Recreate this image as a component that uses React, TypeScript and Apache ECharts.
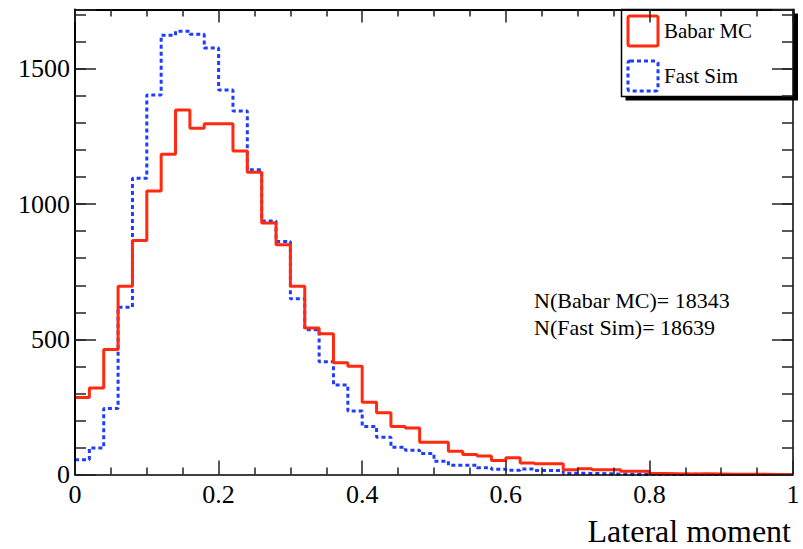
import React, { useEffect, useRef } from "react";
import * as echarts from "echarts";

// Histogram: 50 bins from 0 to 1 (bin width 0.02)
const BIN_WIDTH = 0.02;
const babarMC = [
  285, 320, 462, 696, 866, 1049, 1185, 1348, 1281, 1297,
  1297, 1197, 1118, 930, 850, 696, 542, 521, 413, 400,
  267, 228, 178, 172, 119, 119, 86, 74, 68, 52,
  62, 43, 40, 40, 18, 21, 18, 18, 12, 12,
  4, 3, 2, 3, 2, 1, 1, 1, 0, 0,
];
const fastSim = [
  55, 98, 244, 619, 1096, 1404, 1625, 1640, 1628, 1578,
  1422, 1345, 1127, 938, 862, 650, 535, 417, 331, 235,
  178, 138, 101, 90, 78, 49, 34, 34, 25, 19,
  16, 20, 15, 15, 5, 4, 3, 2, 1, 1,
  1, 0, 1, 0, 0, 0, 0, 0, 0, 0,
];
const seriesNames = ["Babar MC", "Fast Sim"];
const counts = ["N(Babar MC)= 18343", "N(Fast Sim)= 18639"];
const xTitle = "Lateral moment";

const RED = "#ff2a10";
const BLUE = "#1f3cff";
const FONT = "Liberation Serif";

function toSteps(values: number[]) {
  const pts = values.map((v, i) => [+(i * BIN_WIDTH).toFixed(4), v]);
  pts.push([1, values[values.length - 1]]);
  return pts;
}

export default function App() {
  const ref = useRef<HTMLDivElement>(null);
  useEffect(() => {
    document.body.style.margin = "0";
    if (!ref.current) return;
    const chart = echarts.init(ref.current, undefined, { renderer: "svg" });
    const tickStyle = { color: "#222", width: 1.5 };
    const lineStyle = { color: "#000", width: 1.5 };
    const label = { fontSize: 26, fontFamily: FONT, color: "#000" };
    const yMax = 1720;
    const txt = (text: string, x: number, y: number, size: number, align = "left") => ({
      type: "text", z: 7, x, y,
      style: { text, fontSize: size, fontFamily: FONT, fill: "#000", align, verticalAlign: "middle" },
    });
    chart.setOption({
      animation: false,
      backgroundColor: "#fff",
      grid: { left: 75, right: 10, top: 9.5, bottom: 74.5, containLabel: false },
      xAxis: [
        {
          type: "value", position: "bottom", min: 0, max: 1, interval: 0.2, z: 10,
          axisLine: { show: true, onZero: false, lineStyle },
          axisTick: { show: true, inside: true, length: 14, lineStyle: tickStyle },
          minorTick: { show: true, splitNumber: 4, length: 7, lineStyle: tickStyle },
          axisLabel: { ...label, margin: 7 },
          splitLine: { show: false },
        },
        {
          type: "value", position: "top", min: 0, max: 1, interval: 0.2, z: 10,
          axisLine: { show: true, onZero: false, lineStyle: { color: "#000", width: 2 } },
          axisTick: { show: true, inside: true, length: 13, lineStyle: tickStyle },
          minorTick: { show: true, splitNumber: 4, length: 7, lineStyle: tickStyle },
          axisLabel: { show: false },
          splitLine: { show: false },
        },
      ],
      yAxis: [
        {
          type: "value", position: "left", min: 0, max: yMax, interval: 500, z: 10,
          axisLine: { show: true, onZero: false, lineStyle: { color: "#000", width: 2 } },
          axisTick: { show: true, inside: true, length: 21, lineStyle: tickStyle },
          axisLabel: {
            ...label, margin: 5,
            formatter: (v: number) => (v % 500 === 0 ? String(v) : ""),
          },
          splitLine: { show: false },
        },
        {
          type: "value", position: "left", min: 0, max: yMax, interval: 100, z: 10,
          axisLine: { show: false, onZero: false },
          axisTick: { show: true, inside: true, length: 11, lineStyle: tickStyle },
          axisLabel: { show: false },
          splitLine: { show: false },
        },
        {
          type: "value", position: "right", min: 0, max: yMax, interval: 500, z: 10,
          axisLine: { show: true, onZero: false, lineStyle },
          axisTick: { show: true, inside: true, length: 21, lineStyle: tickStyle },
          axisLabel: { show: false },
          splitLine: { show: false },
        },
        {
          type: "value", position: "right", min: 0, max: yMax, interval: 100, z: 10,
          axisLine: { show: false, onZero: false },
          axisTick: { show: true, inside: true, length: 11, lineStyle: tickStyle },
          axisLabel: { show: false },
          splitLine: { show: false },
        },
      ],
      series: [
        {
          name: seriesNames[1], type: "line", step: "end", symbol: "none",
          xAxisIndex: 0, yAxisIndex: 0, z: 2,
          data: toSteps(fastSim),
          lineStyle: { color: BLUE, width: 3, type: [4, 3] },
        },
        {
          name: seriesNames[0], type: "line", step: "end", symbol: "none",
          xAxisIndex: 0, yAxisIndex: 0, z: 3,
          data: toSteps(babarMC),
          lineStyle: { color: RED, width: 3 },
        },
      ],
      graphic: [
        { type: "rect", z: 5, shape: { x: 625.5, y: 13.5, width: 172.5, height: 87 }, style: { fill: "#000" } },
        { type: "rect", z: 6, shape: { x: 621.5, y: 9.5, width: 172.5, height: 87 }, style: { fill: "#fff", stroke: "#000", lineWidth: 1.5 } },
        { type: "rect", z: 7, shape: { x: 628, y: 16, width: 30, height: 30, r: 2 }, style: { fill: "none", stroke: RED, lineWidth: 3 } },
        { type: "rect", z: 7, shape: { x: 628, y: 61, width: 30, height: 30, r: 2 }, style: { fill: "none", stroke: BLUE, lineWidth: 3, lineDash: [4, 3] } },
        txt(seriesNames[0], 664, 31, 21),
        txt(seriesNames[1], 664, 76, 21),
        txt(counts[0], 534, 300, 22),
        txt(counts[1], 534, 327, 22),
        txt(xTitle, 791, 531, 32, "right"),
      ],
    });
    return () => chart.dispose();
  }, []);
  return <div ref={ref} style={{ width: 803, height: 549 }} />;
}
